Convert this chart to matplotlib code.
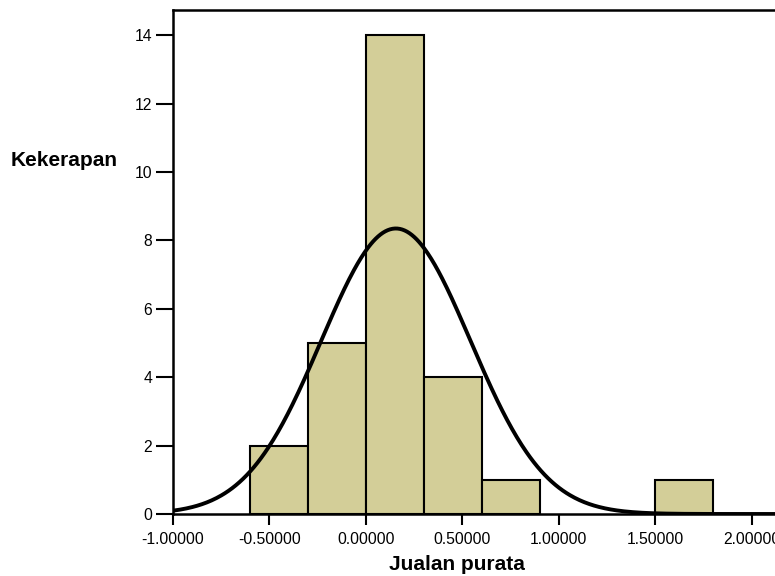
import numpy as np
import matplotlib
matplotlib.use("Agg")
import matplotlib.pyplot as plt

plt.rcParams['font.family'] = ['Liberation Sans', 'DejaVu Sans']

bin_edges = [-0.6, -0.3, 0.0, 0.3, 0.6, 0.9, 1.2, 1.5, 1.8]
counts = [2, 5, 14, 4, 1, 0, 0, 1]
mean = 0.155
sd = 0.387
n_total = sum(counts)
bin_width = 0.3
xticks = [-1.0, -0.5, 0.0, 0.5, 1.0, 1.5, 2.0]
xtick_labels = ["-1.00000", "-0.50000", "0.00000", "0.50000", "1.00000", "1.50000", "2.00000"]
yticks = [0, 2, 4, 6, 8, 10, 12, 14]

fig = plt.figure(figsize=(7.75, 5.76), dpi=100)
ax = fig.add_axes([173/775, 1-514/576, 1-173/775, (514-10)/576])

lefts = bin_edges[:-1]
for l, c in zip(lefts, counts):
    if c > 0:
        ax.bar(l, c, width=bin_width, align='edge', color='#D3CE98',
               edgecolor='black', linewidth=1.5, zorder=2)

xs = np.linspace(-1.0, 2.12, 500)
ys = n_total * bin_width / (sd * np.sqrt(2*np.pi)) * np.exp(-0.5*((xs-mean)/sd)**2)
ax.plot(xs, ys, color='black', linewidth=2.8, zorder=3, solid_capstyle='butt')

ax.set_xlim(-1.0, 2.12)
ax.set_ylim(0, 14.74)
ax.set_xticks(xticks)
ax.set_xticklabels(xtick_labels)
ax.set_yticks(yticks)
ax.tick_params(axis='x', direction='out', length=8, width=1.5, labelsize=11.3, colors='black', pad=5)
ax.tick_params(axis='y', direction='out', length=12, width=1.5, labelsize=11.3, colors='black', pad=3)
for s in ['left', 'bottom', 'top']:
    ax.spines[s].set_linewidth(1.8)
ax.spines['right'].set_visible(False)

ax.set_xlabel("Jualan purata", fontsize=15, fontweight='bold')
ax.xaxis.set_label_coords((457-173)/(775-173), -(565-514)/504, transform=ax.transAxes)
ax.xaxis.label.set_va('center')
ax.set_ylabel("Kekerapan", fontsize=15, fontweight='bold', rotation=0)
ax.yaxis.set_label_coords(-(173-64)/(775-173), (514-160)/504)
ax.yaxis.label.set_va('center')
ax.yaxis.label.set_ha('center')

fig.savefig("out.png", dpi=100)
